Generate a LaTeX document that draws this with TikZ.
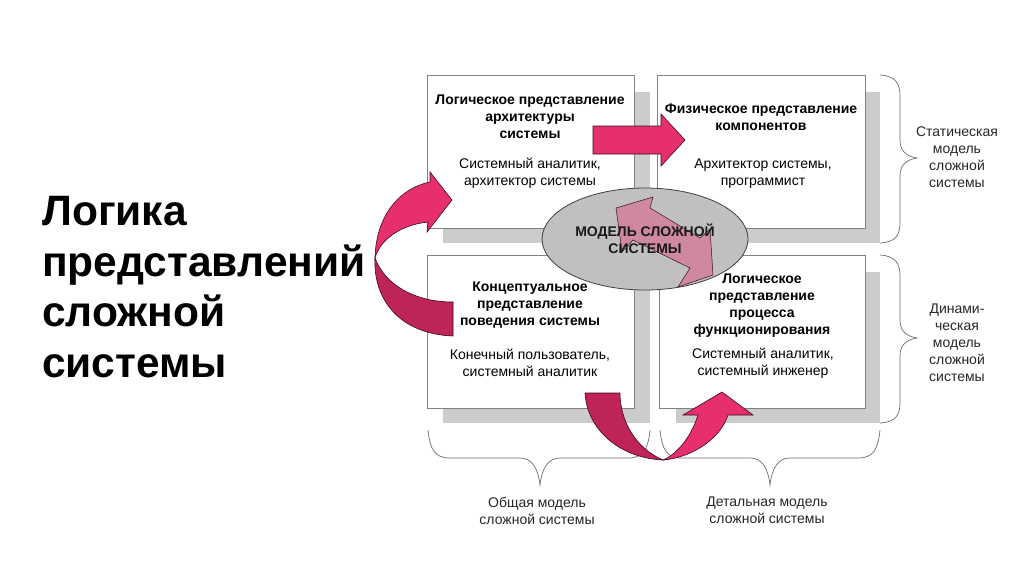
\documentclass[tikz,border=0pt]{standalone}
\usepackage{fontspec}
\setmainfont{Liberation Sans}
\usetikzlibrary{shapes.geometric}
\definecolor{shadowgray}{RGB}{204,204,204}
\definecolor{boxgray}{RGB}{128,128,128}
\definecolor{bracegray}{RGB}{110,110,110}
\definecolor{ellgray}{RGB}{192,192,192}
\definecolor{pinkA}{RGB}{231,47,112}
\definecolor{pinkB}{RGB}{190,35,90}
\definecolor{pinkC}{RGB}{206,136,160}
\definecolor{outl}{RGB}{60,10,30}
\tikzset{
  shadowfill/.style={fill=shadowgray, draw=none},
  mainbox/.style={draw=boxgray, fill=white, line width=0.9pt, inner sep=0, anchor=north west, minimum width=207pt, minimum height=153pt},
  boldtxt/.style={font=\fontsize{14}{17}\selectfont\bfseries, align=center, inner sep=0},
  normtxt/.style={font=\fontsize{14}{17}\selectfont, align=center, inner sep=0},
  sidetxt/.style={font=\fontsize{14}{17}\selectfont, align=center, inner sep=0, text=black!85},
  bracestyle/.style={draw=bracegray, line width=0.7pt},
  bigarrow/.style={draw=outl, line width=0.6pt, line join=miter},
}
\begin{document}
\begin{tikzpicture}[x=1pt,y=-1pt]
\fill[white] (0,0) rectangle (1024,574);
\useasboundingbox (0,0) rectangle (1024,574);

% shadows
\fill[shadowfill] (443,92) rectangle (650,243);
\fill[shadowfill] (673,92) rectangle (880,243);
\fill[shadowfill] (443,272) rectangle (650,423);
\fill[shadowfill] (676,272) rectangle (880,423);

% boxes
\node[mainbox] (tl) at (427,75) {};
\node[mainbox, minimum width=208pt] (tr) at (657,75) {};
\node[mainbox] (bl) at (427,255) {};
\node[mainbox, minimum width=206pt] (br) at (659,255) {};

% box texts
\node[boldtxt] (tlb) at (530,117) {Логическое представление\\архитектуры\\системы};
\node[normtxt] (tln) at (530,173.5) {Системный аналитик,\\архитектор системы};
\node[boldtxt] (trb) at (761,117) {Физическое представление\\компонентов};
\node[normtxt] (trn) at (763,173.5) {Архитектор системы,\\программист};
\node[boldtxt] (blb) at (530,305.5) {Концептуальное\\представление\\поведения системы};
\node[normtxt] (bln) at (530,363) {Конечный пользователь,\\системный аналитик};
\node[boldtxt] (brb) at (762,306) {Логическое\\представление\\процесса\\функционирования};
\node[normtxt] (brn) at (763,363) {Системный аналитик,\\системный инженер};

% right braces
\draw[bracestyle] (880,75) .. controls (896,76) and (900,84) .. (900,96) -- (900,140)
  .. controls (900,150) and (905,156) .. (917,158) .. controls (905,160) and (900,166) .. (900,176)
  -- (900,222) .. controls (900,235) and (896,242) .. (880,243);
\draw[bracestyle] (880,255) .. controls (896,256) and (900,264) .. (900,276) -- (900,320)
  .. controls (900,330) and (905,336) .. (917,338) .. controls (905,340) and (900,346) .. (900,356)
  -- (900,402) .. controls (900,415) and (896,422) .. (880,423);
% bottom braces
\draw[bracestyle] (428,430) .. controls (430,450) and (435,458) .. (450,458) -- (520,458)
  .. controls (532,458) and (538,468) .. (540,485) .. controls (542,468) and (548,458) .. (560,458)
  -- (628,458) .. controls (643,458) and (648,450) .. (650,430);
\draw[bracestyle] (660,430) .. controls (662,450) and (667,458) .. (682,458) -- (750,458)
  .. controls (762,458) and (768,468) .. (770,485) .. controls (772,468) and (778,458) .. (790,458)
  -- (858,458) .. controls (873,458) and (878,450) .. (880,430);

% side labels
\node[sidetxt] (stat) at (957,157.5) {Статическая\\модель\\сложной\\системы};
\node[sidetxt] (dyn) at (957,342.5) {Динами-\\ческая\\модель\\сложной\\системы};
\node[sidetxt] (gen) at (537,510.5) {Общая модель\\сложной системы};
\node[sidetxt] (det) at (767,510.5) {Детальная модель\\сложной системы};

% title
\node[font=\fontsize{42.5}{50.7}\selectfont\bfseries, align=left, inner sep=0, anchor=west] (title) at (42,287)
  {Логика\\представлений\\сложной\\системы};

% ellipse
\node[ellipse, draw=black!75, fill=ellgray, line width=0.8pt, minimum width=206pt, minimum height=102pt, inner sep=0] (ell) at (645,239) {};
% central double arrow
\filldraw[draw=outl, line width=0.5pt, fill=pinkC]
  (616,208) -- (653,197) -- (650,208) -- (700,238) -- (710,229) -- (713,275)
  -- (678,287) -- (690,268) -- (633,240) -- (622,252) -- cycle;
\node[boldtxt, text=black!90] (elltxt) at (645,238.5) {МОДЕЛЬ СЛОЖНОЙ\\СИСТЕМЫ};

% straight arrow top
\filldraw[bigarrow, fill=pinkA] (593,126) -- (661,126) -- (661,114) -- (685,140) -- (661,166) -- (661,154) -- (593,154) -- cycle;

% left curved arrow
\filldraw[bigarrow, fill=pinkB] (375,258) .. controls (373,300) and (400,334) .. (453,336)
  -- (453,302) .. controls (415,302) and (385,285) .. (375,258) -- cycle;
\filldraw[bigarrow, fill=pinkA] (375,258) .. controls (376,215) and (400,188) .. (430,182)
  -- (430,172) -- (452,200) -- (427,232) -- (428,222)
  .. controls (400,225) and (380,240) .. (375,258) -- cycle;

% bottom U arrow
\filldraw[bigarrow, fill=pinkB] (585,393) -- (620,393) .. controls (620,420) and (635,448) .. (663,460)
  .. controls (620,458) and (587,430) .. (585,393) -- cycle;
\filldraw[bigarrow, fill=pinkA] (663,460) .. controls (690,458) and (720,440) .. (728,415)
  -- (753,415) -- (722,392) -- (683,415) -- (698,415)
  .. controls (690,440) and (675,455) .. (663,460) -- cycle;
\end{tikzpicture}
\end{document}
